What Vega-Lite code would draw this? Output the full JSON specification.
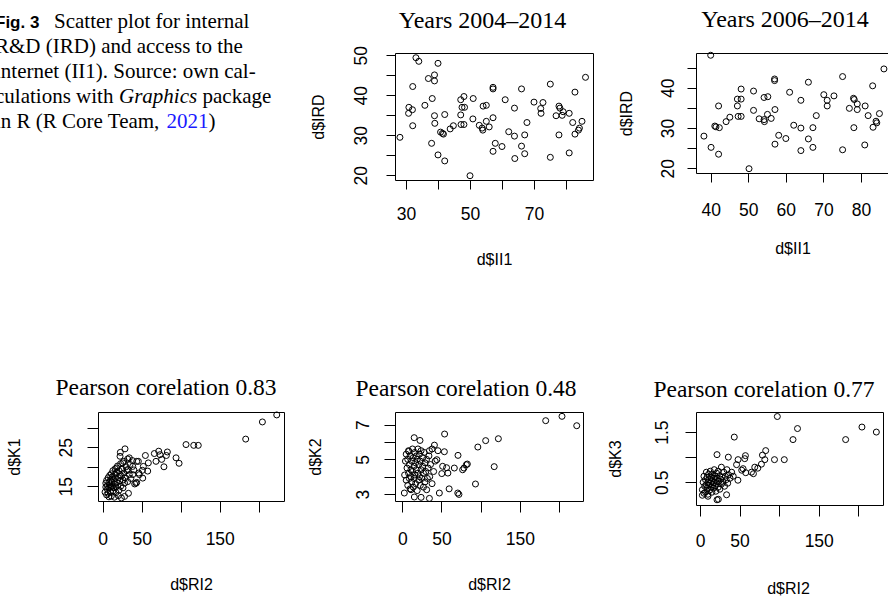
{
  "$schema": "https://vega.github.io/schema/vega-lite/v6.json",
  "background": "white",
  "padding": {"left": -5, "top": 0, "right": -4, "bottom": 0},
  "columns": 4,
  "bounds": "flush",
  "align": "each",
  "spacing": {"row": 40, "column": 88},
  "datasets": {
    "caption": [
      {"line": 1, "piece": 1, "text": "Fig. 3"},
      {"line": 1, "piece": 2, "text": "Scatter plot for internal"},
      {"line": 2, "piece": 1, "text": "R&D (IRD) and access to the"},
      {"line": 3, "piece": 1, "text": "internet (II1). Source: own cal-"},
      {"line": 4, "piece": 1, "text": "culations with"},
      {"line": 4, "piece": 2, "text": "Graphics"},
      {"line": 4, "piece": 3, "text": "package"},
      {"line": 5, "piece": 1, "text": "in R (R Core Team,"},
      {"line": 5, "piece": 2, "text": "2021"},
      {"line": 5, "piece": 3, "text": ")"}
    ],
    "p1": [
      {"II1": 33.1, "IRD": 49.4}, {"II1": 34.0, "IRD": 48.5}, {"II1": 40.0, "IRD": 48.0}, {"II1": 38.9, "IRD": 45.1},
      {"II1": 37.0, "IRD": 44.2}, {"II1": 38.9, "IRD": 43.6}, {"II1": 32.1, "IRD": 42.2}, {"II1": 86.1, "IRD": 44.5},
      {"II1": 75.1, "IRD": 42.8}, {"II1": 82.8, "IRD": 40.8}, {"II1": 57.2, "IRD": 42.0}, {"II1": 57.2, "IRD": 41.6},
      {"II1": 66.1, "IRD": 41.6}, {"II1": 38.2, "IRD": 39.2}, {"II1": 48.1, "IRD": 39.7}, {"II1": 47.1, "IRD": 38.9},
      {"II1": 51.0, "IRD": 39.2}, {"II1": 61.0, "IRD": 38.9}, {"II1": 70.0, "IRD": 38.3}, {"II1": 72.8, "IRD": 38.2},
      {"II1": 35.9, "IRD": 37.5}, {"II1": 30.9, "IRD": 37.0}, {"II1": 32.0, "IRD": 36.4}, {"II1": 30.8, "IRD": 35.5},
      {"II1": 47.5, "IRD": 37.0}, {"II1": 48.3, "IRD": 37.0}, {"II1": 54.1, "IRD": 37.3}, {"II1": 55.1, "IRD": 37.5},
      {"II1": 63.9, "IRD": 36.8}, {"II1": 72.1, "IRD": 36.7}, {"II1": 77.8, "IRD": 37.3}, {"II1": 78.1, "IRD": 36.8},
      {"II1": 79.1, "IRD": 35.9}, {"II1": 72.2, "IRD": 35.5}, {"II1": 81.0, "IRD": 35.5}, {"II1": 76.9, "IRD": 34.9},
      {"II1": 78.8, "IRD": 35.0}, {"II1": 38.9, "IRD": 34.9}, {"II1": 42.1, "IRD": 35.2}, {"II1": 47.1, "IRD": 35.1},
      {"II1": 32.1, "IRD": 32.4}, {"II1": 39.0, "IRD": 33.0}, {"II1": 50.9, "IRD": 34.1}, {"II1": 55.1, "IRD": 33.5},
      {"II1": 57.2, "IRD": 34.4}, {"II1": 67.8, "IRD": 33.2}, {"II1": 82.1, "IRD": 33.2}, {"II1": 85.0, "IRD": 33.5},
      {"II1": 48.1, "IRD": 32.7}, {"II1": 47.2, "IRD": 32.7}, {"II1": 44.8, "IRD": 32.4}, {"II1": 43.8, "IRD": 31.6},
      {"II1": 52.9, "IRD": 32.5}, {"II1": 53.8, "IRD": 31.8}, {"II1": 54.0, "IRD": 31.3}, {"II1": 56.0, "IRD": 32.1},
      {"II1": 40.8, "IRD": 30.8}, {"II1": 41.7, "IRD": 30.3}, {"II1": 41.4, "IRD": 30.5}, {"II1": 62.1, "IRD": 30.9},
      {"II1": 63.9, "IRD": 29.8}, {"II1": 67.1, "IRD": 30.1}, {"II1": 77.8, "IRD": 30.1}, {"II1": 82.8, "IRD": 30.3},
      {"II1": 83.9, "IRD": 31.3}, {"II1": 84.2, "IRD": 31.8}, {"II1": 28.1, "IRD": 29.5}, {"II1": 38.0, "IRD": 28.0},
      {"II1": 57.9, "IRD": 28.0}, {"II1": 60.0, "IRD": 27.2}, {"II1": 66.1, "IRD": 27.3}, {"II1": 57.2, "IRD": 26.0},
      {"II1": 67.1, "IRD": 25.4}, {"II1": 40.0, "IRD": 25.1}, {"II1": 42.1, "IRD": 23.6}, {"II1": 64.0, "IRD": 24.2},
      {"II1": 75.1, "IRD": 24.5}, {"II1": 81.0, "IRD": 25.6}, {"II1": 50.0, "IRD": 19.9}
    ],
    "p2": [
      {"II1": 40.0, "IRD": 48.1}, {"II1": 86.1, "IRD": 44.7}, {"II1": 75.1, "IRD": 42.8}, {"II1": 57.0, "IRD": 42.2},
      {"II1": 57.0, "IRD": 41.8}, {"II1": 66.0, "IRD": 41.4}, {"II1": 83.1, "IRD": 40.5}, {"II1": 48.1, "IRD": 39.7},
      {"II1": 51.4, "IRD": 39.2}, {"II1": 61.0, "IRD": 38.9}, {"II1": 70.1, "IRD": 38.3}, {"II1": 72.8, "IRD": 38.0},
      {"II1": 47.1, "IRD": 37.2}, {"II1": 48.1, "IRD": 37.2}, {"II1": 54.2, "IRD": 37.6}, {"II1": 55.2, "IRD": 37.8},
      {"II1": 64.0, "IRD": 36.9}, {"II1": 71.0, "IRD": 36.9}, {"II1": 78.0, "IRD": 37.4}, {"II1": 78.2, "IRD": 37.1},
      {"II1": 47.1, "IRD": 35.5}, {"II1": 42.1, "IRD": 35.5}, {"II1": 71.0, "IRD": 35.5}, {"II1": 76.9, "IRD": 34.9},
      {"II1": 79.0, "IRD": 36.0}, {"II1": 79.0, "IRD": 34.6}, {"II1": 81.1, "IRD": 35.5}, {"II1": 51.4, "IRD": 34.4},
      {"II1": 57.1, "IRD": 34.6}, {"II1": 47.3, "IRD": 32.9}, {"II1": 48.1, "IRD": 32.9}, {"II1": 45.1, "IRD": 32.7},
      {"II1": 44.1, "IRD": 31.6}, {"II1": 52.9, "IRD": 32.3}, {"II1": 54.2, "IRD": 32.1}, {"II1": 55.1, "IRD": 33.4},
      {"II1": 56.1, "IRD": 32.4}, {"II1": 54.3, "IRD": 31.6}, {"II1": 68.1, "IRD": 33.1}, {"II1": 81.9, "IRD": 33.1},
      {"II1": 84.9, "IRD": 33.6}, {"II1": 84.0, "IRD": 31.7}, {"II1": 83.2, "IRD": 30.2}, {"II1": 84.2, "IRD": 31.3},
      {"II1": 41.4, "IRD": 30.3}, {"II1": 41.1, "IRD": 30.5}, {"II1": 42.3, "IRD": 30.1}, {"II1": 62.1, "IRD": 30.7},
      {"II1": 64.0, "IRD": 30.0}, {"II1": 67.2, "IRD": 30.1}, {"II1": 78.1, "IRD": 30.1}, {"II1": 38.2, "IRD": 28.0},
      {"II1": 58.1, "IRD": 28.2}, {"II1": 60.0, "IRD": 27.4}, {"II1": 66.0, "IRD": 27.3}, {"II1": 57.1, "IRD": 26.0},
      {"II1": 67.2, "IRD": 25.2}, {"II1": 40.1, "IRD": 25.2}, {"II1": 42.1, "IRD": 23.5}, {"II1": 64.0, "IRD": 24.4},
      {"II1": 75.1, "IRD": 24.6}, {"II1": 81.0, "IRD": 25.8}, {"II1": 50.2, "IRD": 19.9}
    ],
    "p3": [
      {"RI2": 223.1, "K1": 33.3}, {"RI2": 204.7, "K1": 31.5}, {"RI2": 183.3, "K1": 27.1}, {"RI2": 106.8, "K1": 25.7},
      {"RI2": 116.7, "K1": 25.5}, {"RI2": 122.5, "K1": 25.5}, {"RI2": 97.9, "K1": 20.9}, {"RI2": 94.0, "K1": 22.3},
      {"RI2": 78.5, "K1": 20.0}, {"RI2": 71.8, "K1": 24.0}, {"RI2": 66.2, "K1": 23.4}, {"RI2": 73.5, "K1": 23.1},
      {"RI2": 82.9, "K1": 23.8}, {"RI2": 81.6, "K1": 22.9}, {"RI2": 75.6, "K1": 21.9}, {"RI2": 68.3, "K1": 21.4},
      {"RI2": 54.7, "K1": 22.9}, {"RI2": 58.5, "K1": 21.0}, {"RI2": 52.1, "K1": 20.1}, {"RI2": 50.9, "K1": 19.1},
      {"RI2": 57.7, "K1": 18.9}, {"RI2": 51.3, "K1": 17.1}, {"RI2": 43.6, "K1": 16.0}, {"RI2": 47.0, "K1": 18.0},
      {"RI2": 28.6, "K1": 24.6}, {"RI2": 22.6, "K1": 23.7}, {"RI2": 22.2, "K1": 22.7}, {"RI2": 43.6, "K1": 21.4},
      {"RI2": 38.5, "K1": 20.1}, {"RI2": 34.1, "K1": 22.3}, {"RI2": 45.7, "K1": 21.4}, {"RI2": 46.2, "K1": 18.4},
      {"RI2": 42.7, "K1": 15.8}, {"RI2": 38.5, "K1": 18.0}, {"RI2": 32.0, "K1": 19.3}, {"RI2": 25.6, "K1": 21.0},
      {"RI2": 17.9, "K1": 19.7},
      {"RI2": 3, "K1": 13.5}, {"RI2": 4, "K1": 14.8}, {"RI2": 4, "K1": 15.8}, {"RI2": 5, "K1": 12.8}, {"RI2": 5, "K1": 16.5},
      {"RI2": 6, "K1": 14.2}, {"RI2": 6, "K1": 15.2}, {"RI2": 7, "K1": 13.2}, {"RI2": 7, "K1": 17.2}, {"RI2": 8, "K1": 12.3},
      {"RI2": 8, "K1": 14.6}, {"RI2": 8, "K1": 16.0}, {"RI2": 9, "K1": 15.4}, {"RI2": 9, "K1": 17.8}, {"RI2": 10, "K1": 13.6},
      {"RI2": 10, "K1": 14.8}, {"RI2": 10, "K1": 16.6}, {"RI2": 11, "K1": 12.5}, {"RI2": 11, "K1": 18.2}, {"RI2": 12, "K1": 15.0},
      {"RI2": 12, "K1": 16.2}, {"RI2": 12, "K1": 17.4}, {"RI2": 13, "K1": 13.8}, {"RI2": 13, "K1": 19.0}, {"RI2": 14, "K1": 14.6},
      {"RI2": 14, "K1": 16.8}, {"RI2": 15, "K1": 12.2}, {"RI2": 15, "K1": 15.6}, {"RI2": 15, "K1": 18.0}, {"RI2": 16, "K1": 17.0},
      {"RI2": 16, "K1": 19.5}, {"RI2": 17, "K1": 13.4}, {"RI2": 17, "K1": 14.8}, {"RI2": 18, "K1": 16.0}, {"RI2": 18, "K1": 18.6},
      {"RI2": 19, "K1": 15.2}, {"RI2": 19, "K1": 20.2}, {"RI2": 20, "K1": 12.6}, {"RI2": 20, "K1": 17.2}, {"RI2": 21, "K1": 14.0},
      {"RI2": 21, "K1": 19.0}, {"RI2": 22, "K1": 16.4}, {"RI2": 22, "K1": 18.0}, {"RI2": 23, "K1": 15.0}, {"RI2": 23, "K1": 20.8},
      {"RI2": 24, "K1": 12.0}, {"RI2": 24, "K1": 17.6}, {"RI2": 25, "K1": 19.4}, {"RI2": 26, "K1": 14.6}, {"RI2": 26, "K1": 16.6},
      {"RI2": 27, "K1": 18.4}, {"RI2": 27, "K1": 21.4}, {"RI2": 28, "K1": 12.4}, {"RI2": 28, "K1": 15.8}, {"RI2": 29, "K1": 17.2},
      {"RI2": 30, "K1": 20.0}, {"RI2": 31, "K1": 19.0}, {"RI2": 32, "K1": 16.2}, {"RI2": 32, "K1": 22.0}, {"RI2": 33, "K1": 13.2},
      {"RI2": 34, "K1": 18.0}, {"RI2": 35, "K1": 20.6}, {"RI2": 36, "K1": 17.0}, {"RI2": 38, "K1": 21.6}, {"RI2": 40, "K1": 19.2},
      {"RI2": 41, "K1": 15.6}
    ],
    "p4": [
      {"RI2": 183.0, "K2": 7.23}, {"RI2": 203.8, "K2": 7.48}, {"RI2": 222.6, "K2": 6.94}, {"RI2": 122.6, "K2": 6.19},
      {"RI2": 106.4, "K2": 6.08}, {"RI2": 96.4, "K2": 5.71}, {"RI2": 117.3, "K2": 4.58}, {"RI2": 93.4, "K2": 3.58},
      {"RI2": 81.7, "K2": 4.69}, {"RI2": 78.7, "K2": 4.50}, {"RI2": 77.0, "K2": 4.40}, {"RI2": 71.1, "K2": 5.23},
      {"RI2": 66.4, "K2": 4.50}, {"RI2": 54.0, "K2": 6.46}, {"RI2": 53.7, "K2": 5.44}, {"RI2": 45.5, "K2": 5.50},
      {"RI2": 41.0, "K2": 5.82}, {"RI2": 51.5, "K2": 4.60}, {"RI2": 56.5, "K2": 4.52}, {"RI2": 50.4, "K2": 4.18},
      {"RI2": 59.8, "K2": 3.30}, {"RI2": 70.8, "K2": 3.06}, {"RI2": 72.3, "K2": 2.98}, {"RI2": 47.3, "K2": 3.06},
      {"RI2": 34.6, "K2": 2.75}, {"RI2": 24.0, "K2": 2.81}, {"RI2": 15.4, "K2": 2.83}, {"RI2": 31.1, "K2": 3.25},
      {"RI2": 15.2, "K2": 6.25}, {"RI2": 22.6, "K2": 6.09}, {"RI2": 2.6, "K2": 3.06}, {"RI2": 11.2, "K2": 3.25},
      {"RI2": 44.1, "K2": 4.98}, {"RI2": 58.2, "K2": 4.21}, {"RI2": 83.0, "K2": 4.73}, {"RI2": 8.2, "K2": 5.46},
      {"RI2": 34.6, "K2": 5.50},
      {"RI2": 3, "K2": 4.1}, {"RI2": 4, "K2": 4.9}, {"RI2": 5, "K2": 3.8}, {"RI2": 5, "K2": 5.3}, {"RI2": 6, "K2": 4.5},
      {"RI2": 7, "K2": 3.5}, {"RI2": 7, "K2": 5.0}, {"RI2": 8, "K2": 4.2}, {"RI2": 8, "K2": 5.5}, {"RI2": 9, "K2": 3.9},
      {"RI2": 9, "K2": 4.7}, {"RI2": 10, "K2": 3.3}, {"RI2": 10, "K2": 5.2}, {"RI2": 11, "K2": 4.4}, {"RI2": 11, "K2": 4.0},
      {"RI2": 12, "K2": 4.9}, {"RI2": 12, "K2": 3.7}, {"RI2": 13, "K2": 5.6}, {"RI2": 13, "K2": 4.3}, {"RI2": 14, "K2": 3.4},
      {"RI2": 14, "K2": 5.1}, {"RI2": 15, "K2": 4.6}, {"RI2": 15, "K2": 3.9}, {"RI2": 16, "K2": 5.4}, {"RI2": 16, "K2": 4.1},
      {"RI2": 17, "K2": 4.8}, {"RI2": 17, "K2": 3.6}, {"RI2": 18, "K2": 5.2}, {"RI2": 18, "K2": 4.4}, {"RI2": 19, "K2": 3.2},
      {"RI2": 19, "K2": 5.0}, {"RI2": 20, "K2": 4.2}, {"RI2": 20, "K2": 5.6}, {"RI2": 21, "K2": 3.8}, {"RI2": 21, "K2": 4.7},
      {"RI2": 22, "K2": 5.3}, {"RI2": 22, "K2": 4.0}, {"RI2": 23, "K2": 3.5}, {"RI2": 23, "K2": 4.9}, {"RI2": 24, "K2": 4.4},
      {"RI2": 24, "K2": 5.5}, {"RI2": 25, "K2": 3.9}, {"RI2": 26, "K2": 4.6}, {"RI2": 26, "K2": 5.1}, {"RI2": 27, "K2": 3.4},
      {"RI2": 27, "K2": 4.2}, {"RI2": 28, "K2": 5.4}, {"RI2": 29, "K2": 4.8}, {"RI2": 29, "K2": 3.7}, {"RI2": 30, "K2": 4.3},
      {"RI2": 31, "K2": 5.0}, {"RI2": 32, "K2": 3.9}, {"RI2": 33, "K2": 4.5}, {"RI2": 34, "K2": 5.2}, {"RI2": 35, "K2": 4.0},
      {"RI2": 36, "K2": 4.7}, {"RI2": 38, "K2": 3.6}, {"RI2": 38, "K2": 5.6}, {"RI2": 40, "K2": 4.3}, {"RI2": 42, "K2": 4.9}
    ],
    "p5": [
      {"RI2": 97.7, "K3": 1.81}, {"RI2": 123.2, "K3": 1.57}, {"RI2": 117.5, "K3": 1.35}, {"RI2": 204.6, "K3": 1.60},
      {"RI2": 222.8, "K3": 1.50}, {"RI2": 184.0, "K3": 1.35}, {"RI2": 43.3, "K3": 1.40}, {"RI2": 94.1, "K3": 0.95},
      {"RI2": 106.5, "K3": 0.95}, {"RI2": 83.0, "K3": 1.13}, {"RI2": 78.9, "K3": 1.04}, {"RI2": 81.9, "K3": 0.95},
      {"RI2": 77.6, "K3": 0.86}, {"RI2": 73.0, "K3": 0.78}, {"RI2": 67.5, "K3": 0.67}, {"RI2": 57.4, "K3": 1.03},
      {"RI2": 56.5, "K3": 0.97}, {"RI2": 48.1, "K3": 0.95}, {"RI2": 46.2, "K3": 0.85}, {"RI2": 52.7, "K3": 0.74},
      {"RI2": 57.8, "K3": 0.69}, {"RI2": 47.9, "K3": 0.54}, {"RI2": 35.8, "K3": 1.0}, {"RI2": 21.5, "K3": 1.05},
      {"RI2": 69.2, "K3": 0.80}, {"RI2": 54.4, "K3": 0.77}, {"RI2": 65.0, "K3": 0.70}, {"RI2": 33.6, "K3": 0.25},
      {"RI2": 23.2, "K3": 0.16}, {"RI2": 21.5, "K3": 0.15}, {"RI2": 3.0, "K3": 0.24}, {"RI2": 10.1, "K3": 0.22},
      {"RI2": 3, "K3": 0.35}, {"RI2": 4, "K3": 0.5}, {"RI2": 5, "K3": 0.28}, {"RI2": 5, "K3": 0.62}, {"RI2": 6, "K3": 0.42},
      {"RI2": 7, "K3": 0.55}, {"RI2": 7, "K3": 0.3}, {"RI2": 8, "K3": 0.7}, {"RI2": 8, "K3": 0.45}, {"RI2": 9, "K3": 0.38},
      {"RI2": 9, "K3": 0.6}, {"RI2": 10, "K3": 0.5}, {"RI2": 10, "K3": 0.26}, {"RI2": 11, "K3": 0.66}, {"RI2": 11, "K3": 0.44},
      {"RI2": 12, "K3": 0.55}, {"RI2": 12, "K3": 0.34}, {"RI2": 13, "K3": 0.72}, {"RI2": 13, "K3": 0.48}, {"RI2": 14, "K3": 0.6},
      {"RI2": 14, "K3": 0.4}, {"RI2": 15, "K3": 0.52}, {"RI2": 15, "K3": 0.3}, {"RI2": 16, "K3": 0.66}, {"RI2": 16, "K3": 0.45},
      {"RI2": 17, "K3": 0.58}, {"RI2": 17, "K3": 0.38}, {"RI2": 18, "K3": 0.75}, {"RI2": 18, "K3": 0.5}, {"RI2": 19, "K3": 0.62},
      {"RI2": 19, "K3": 0.42}, {"RI2": 20, "K3": 0.55}, {"RI2": 20, "K3": 0.32}, {"RI2": 21, "K3": 0.68}, {"RI2": 21, "K3": 0.47},
      {"RI2": 22, "K3": 0.58}, {"RI2": 23, "K3": 0.4}, {"RI2": 23, "K3": 0.72}, {"RI2": 24, "K3": 0.52}, {"RI2": 25, "K3": 0.63},
      {"RI2": 25, "K3": 0.36}, {"RI2": 26, "K3": 0.56}, {"RI2": 27, "K3": 0.46}, {"RI2": 27, "K3": 0.8}, {"RI2": 28, "K3": 0.6},
      {"RI2": 29, "K3": 0.5}, {"RI2": 30, "K3": 0.7}, {"RI2": 31, "K3": 0.42}, {"RI2": 32, "K3": 0.62}, {"RI2": 33, "K3": 0.55},
      {"RI2": 34, "K3": 0.75}, {"RI2": 35, "K3": 0.48}, {"RI2": 36, "K3": 0.65}, {"RI2": 38, "K3": 0.58}, {"RI2": 40, "K3": 0.7},
      {"RI2": 42, "K3": 0.62}
    ]
  },
  "concat": [
    {
      "width": 10, "height": 10,
      "view": {"stroke": null},
      "data": {"name": "caption"},
      "encoding": {
        "x": {"datum": 0, "type": "quantitative", "scale": {"domain": [0, 1]}, "axis": null},
        "y": {"field": "line", "type": "quantitative", "scale": {"domain": [0, 0.4], "reverse": true, "nice": false, "zero": false}, "axis": null},
        "text": {"field": "text"}
      },
      "layer": [
        {"transform": [{"filter": "datum.piece == 1 && datum.line > 1"}],
         "mark": {"type": "text", "align": "left", "baseline": "alphabetic", "dx": -5, "font": "Liberation Serif", "fontSize": 21, "color": "black"}},
        {"transform": [{"filter": "datum.piece == 1 && datum.line == 1"}],
         "mark": {"type": "text", "align": "left", "baseline": "alphabetic", "dx": -5, "font": "Liberation Sans", "fontWeight": "bold", "fontSize": 17, "color": "black"}},
        {"transform": [{"filter": "datum.piece == 2 && datum.line == 1"}],
         "mark": {"type": "text", "align": "left", "baseline": "alphabetic", "dx": 54, "font": "Liberation Serif", "fontSize": 21, "color": "black"}},
        {"transform": [{"filter": "datum.piece == 2 && datum.line == 4"}],
         "mark": {"type": "text", "align": "left", "baseline": "alphabetic", "dx": 119, "font": "Liberation Serif", "fontStyle": "italic", "fontSize": 21, "color": "black"}},
        {"transform": [{"filter": "datum.piece == 3 && datum.line == 4"}],
         "mark": {"type": "text", "align": "left", "baseline": "alphabetic", "dx": 202.5, "font": "Liberation Serif", "fontSize": 21, "color": "black"}},
        {"transform": [{"filter": "datum.piece == 2 && datum.line == 5"}],
         "mark": {"type": "text", "align": "left", "baseline": "alphabetic", "dx": 166.5, "font": "Liberation Serif", "fontSize": 21, "color": "#1a1aff"}},
        {"transform": [{"filter": "datum.piece == 3 && datum.line == 5"}],
         "mark": {"type": "text", "align": "left", "baseline": "alphabetic", "dx": 208.5, "font": "Liberation Serif", "fontSize": 21, "color": "black"}}
      ]
    },
    {"width": 1, "height": 1, "view": {"stroke": null}, "data": {"values": [{}]}, "mark": {"type": "point", "opacity": 0}},
    {"width": 213, "height": 1, "view": {"stroke": null}, "data": {"values": [{}]}, "mark": {"type": "point", "opacity": 0}},
    {"width": 1, "height": 1, "view": {"stroke": null}, "data": {"values": [{}]}, "mark": {"type": "point", "opacity": 0}},
    {"width": 1, "height": 319, "view": {"stroke": null}, "data": {"values": [{}]}, "mark": {"type": "point", "opacity": 0}},
    {"width": 209, "height": 1, "view": {"stroke": null}, "data": {"values": [{}]}, "mark": {"type": "point", "opacity": 0}},
    {
      "width": 198, "height": 127,
      "title": {"text": "Years 2004–2014", "fontSize": 24, "dx": -11.5, "offset": 13},
      "data": {"name": "p1"},
      "mark": {"type": "point", "shape": "circle", "filled": false, "color": "black", "strokeWidth": 1, "size": 36, "opacity": 1},
      "encoding": {
        "x": {"field": "II1", "type": "quantitative", "scale": {"domain": [26.56, 88.44], "nice": false, "zero": false},
              "axis": {"title": "d$II1", "values": [30, 40, 50, 60, 70, 80], "labelExpr": "(datum.value - 30) % 20 == 0 ? datum.label : ''", "tickSize": 9, "labelPadding": 16.7, "titleX": 99, "titleY": 79}},
        "y": {"field": "IRD", "type": "quantitative", "scale": {"domain": [18.83, 50.58], "nice": false, "zero": false},
              "axis": {"title": "d$IRD", "values": [20, 25, 30, 35, 40, 45, 50], "labelExpr": "datum.value % 10 == 0 ? datum.label : ''", "tickSize": 9, "labelPadding": 15.7, "titleX": -77, "titleY": 63.5}}
      }
    },
    {
      "width": 195, "height": 120,
      "title": {"text": "Years 2006–2014", "fontSize": 24, "dx": -8.5, "offset": 18},
      "data": {"name": "p2"},
      "mark": {"type": "point", "shape": "circle", "filled": false, "color": "black", "strokeWidth": 1, "size": 36, "opacity": 1},
      "encoding": {
        "x": {"field": "II1", "type": "quantitative", "scale": {"domain": [36.09, 87.98], "nice": false, "zero": false},
              "axis": {"title": "d$II1", "values": [40, 50, 60, 70, 80], "tickSize": 9, "labelPadding": 19, "titleX": 96.5, "titleY": 75}},
        "y": {"field": "IRD", "type": "quantitative", "scale": {"domain": [18.83, 48.66], "nice": false, "zero": false},
              "axis": {"title": "d$IRD", "values": [20, 25, 30, 35, 40, 45], "labelExpr": "datum.value % 10 == 0 ? datum.label : ''", "tickSize": 9, "labelPadding": 9.4, "titleX": -70, "titleY": 60}}
      }
    },
    {"width": 1, "height": 1, "view": {"stroke": null}, "data": {"values": [{}]}, "mark": {"type": "point", "opacity": 0}},
    {
      "width": 186, "height": 89,
      "title": {"text": "Pearson corelation 0.83", "fontSize": 23.5, "dx": -25, "offset": 10.5},
      "data": {"name": "p3"},
      "mark": {"type": "point", "shape": "circle", "filled": false, "color": "black", "strokeWidth": 1, "size": 36, "opacity": 1},
      "encoding": {
        "x": {"field": "RI2", "type": "quantitative", "scale": {"domain": [-6.03, 232.4], "nice": false, "zero": false},
              "axis": {"title": "d$RI2", "values": [0, 50, 100, 150, 200], "labelExpr": "datum.value == 100 || datum.value == 200 ? '' : datum.label", "tickSize": 11, "labelPadding": 18, "titleX": 93, "titleY": 83.5}},
        "y": {"field": "K1", "type": "quantitative", "scale": {"domain": [11.23, 34.05], "nice": false, "zero": false},
              "axis": {"title": "d$K1", "values": [15, 20, 25, 30], "labelExpr": "datum.value == 15 || datum.value == 25 ? datum.label : ''", "tickSize": 11, "labelPadding": 11.7, "titleX": -83.5, "titleY": 44.5}}
      }
    },
    {
      "width": 188, "height": 89,
      "title": {"text": "Pearson corelation 0.48", "fontSize": 23.5, "dx": -23, "offset": 10.5},
      "data": {"name": "p4"},
      "mark": {"type": "point", "shape": "circle", "filled": false, "color": "black", "strokeWidth": 1, "size": 36, "opacity": 1},
      "encoding": {
        "x": {"field": "RI2", "type": "quantitative", "scale": {"domain": [-9.3, 230.6], "nice": false, "zero": false},
              "axis": {"title": "d$RI2", "values": [0, 50, 100, 150, 200], "labelExpr": "datum.value == 100 || datum.value == 200 ? '' : datum.label", "tickSize": 11, "labelPadding": 18, "titleX": 94, "titleY": 83.5}},
        "y": {"field": "K2", "type": "quantitative", "scale": {"domain": [2.6, 7.73], "nice": false, "zero": false},
              "axis": {"title": "d$K2", "values": [3, 4, 5, 6, 7], "labelExpr": "datum.value % 2 == 1 ? datum.label : ''", "tickSize": 11, "labelPadding": 12, "titleX": -80, "titleY": 44.5}}
      }
    },
    {
      "width": 187, "height": 93,
      "title": {"text": "Pearson corelation 0.77", "fontSize": 23.5, "dx": -25.5, "offset": 10.5},
      "data": {"name": "p5"},
      "mark": {"type": "point", "shape": "circle", "filled": false, "color": "black", "strokeWidth": 1, "size": 36, "opacity": 1},
      "encoding": {
        "x": {"field": "RI2", "type": "quantitative", "scale": {"domain": [-5.05, 231.2], "nice": false, "zero": false},
              "axis": {"title": "d$RI2", "values": [0, 50, 100, 150, 200], "labelExpr": "datum.value == 100 || datum.value == 200 ? '' : datum.label", "tickSize": 11, "labelPadding": 16.4, "titleX": 92, "titleY": 83}},
        "y": {"field": "K3", "type": "quantitative", "scale": {"domain": [0.046, 1.9], "nice": false, "zero": false},
              "axis": {"title": "d$K3", "values": [0.5, 1, 1.5], "format": ".1f", "labelExpr": "datum.value == 1 ? '' : datum.label", "tickSize": 11, "labelPadding": 13.7, "titleX": -80.5, "titleY": 46.5}}
      }
    }
  ],
  "config": {
    "view": {"stroke": "black", "strokeWidth": 1},
    "title": {"font": "Liberation Serif", "fontWeight": "normal", "color": "black", "anchor": "middle", "frame": "group", "baseline": "alphabetic"},
    "axis": {"domain": false, "grid": false, "ticks": true, "tickColor": "black", "tickWidth": 1, "labelColor": "black", "labelFont": "Liberation Sans", "labelFontSize": 17.5, "titleFont": "Liberation Sans", "titleFontSize": 16, "titleFontWeight": "normal", "titleColor": "black", "labelFlush": false, "labelOverlap": false, "titleAlign": "center", "titleBaseline": "middle"},
    "axisX": {"labelAngle": 0, "labelAlign": "center", "labelBaseline": "top"},
    "axisY": {"labelAngle": 270, "labelAlign": "center", "labelBaseline": "bottom", "titleAngle": 270}
  }
}
